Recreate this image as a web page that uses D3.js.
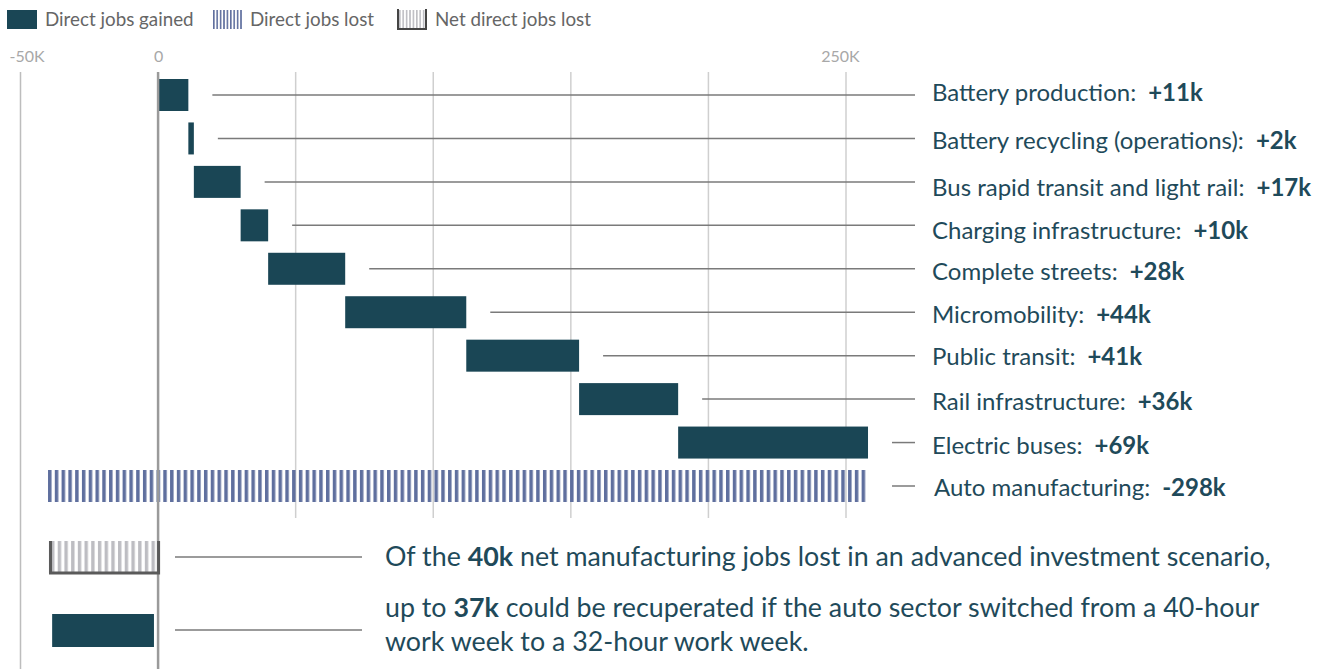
<!DOCTYPE html>
<html>
<head>
<meta charset="utf-8">
<script src="https://cdn.jsdelivr.net/npm/d3@7"></script>
<style>
  body { margin: 0; background: #fff; }
  svg { display: block; font-family: Lato, "Noto Sans", sans-serif; }
</style>
</head>
<body>
<svg id="chart" width="1326" height="669"></svg>
<script>
// Direct job changes by sector, in thousands of jobs
const categories = [
  "Battery production",
  "Battery recycling (operations)",
  "Bus rapid transit and light rail",
  "Charging infrastructure",
  "Complete streets",
  "Micromobility",
  "Public transit",
  "Rail infrastructure",
  "Electric buses",
  "Auto manufacturing"
];
const jobsChange = [11, 2, 17, 10, 28, 44, 41, 36, 69, -298];
const valueLabels = ["+11k", "+2k", "+17k", "+10k", "+28k", "+44k", "+41k", "+36k", "+69k", "-298k"];

// Net manufacturing outcome, thousands
const netJobsLost = 40;
const recuperated = 37;

// Axis
const tickValues = [-50, 0, 250];
const tickLabels = ["-50K", "0", "250K"];
const gridValues = [50, 100, 150, 200, 250];

const legendLabels = ["Direct jobs gained", "Direct jobs lost", "Net direct jobs lost"];

const noteLines = [
  [["Of the ", false], ["40k", true], [" net manufacturing jobs lost in an advanced investment scenario,", false]],
  [["up to ", false], ["37k", true], [" could be recuperated if the auto sector switched from a 40-hour", false]],
  [["work week to a 32-hour work week.", false]]
];

// ---- styling ----
const TEAL = "#1a4655";
const LOST = "#5f6f9e";
const NET_FILL = "#bdbdc2";
const TEXT = "#1f4a5a";

const svg = d3.select("#chart");
const defs = svg.append("defs");

const x = d3.scaleLinear().domain([-50, 250]).range([20.5, 846]);
const y = d3.scalePoint().domain(categories).range([95, 486]);
const barH = 32;

// running totals for the waterfall
let run = 0;
const rows = categories.map((c, i) => {
  const start = run;
  run += jobsChange[i];
  return { name: c, value: jobsChange[i], label: valueLabels[i], x0: Math.min(start, run), x1: Math.max(start, run) };
});

// stripe patterns
function stripes(id, color, period, stripeW, offset) {
  const p = defs.append("pattern")
    .attr("id", id).attr("patternUnits", "userSpaceOnUse")
    .attr("width", period).attr("height", 10)
    .attr("patternTransform", `translate(${offset},0)`);
  p.append("rect").attr("width", stripeW).attr("height", 10).attr("fill", color);
}
const lostStart = x(rows[rows.length - 1].x0);
stripes("lost", LOST, 6.78, 3.5, lostStart);
stripes("net", NET_FILL, 6.7, 3.4, x(-netJobsLost) + 3);
stripes("lostIcon", LOST, 3.4, 1.6, 213);
stripes("netIcon", NET_FILL, 3.4, 1.6, 399);

// ---- grid ----
const grid = svg.append("g");
grid.selectAll("line.g")
  .data(gridValues).join("line")
  .attr("x1", d => x(d)).attr("x2", d => x(d))
  .attr("y1", 72).attr("y2", 518)
  .attr("stroke", "#cfcfcf").attr("stroke-width", 1.5);
grid.append("line")
  .attr("x1", x(-50)).attr("x2", x(-50)).attr("y1", 72).attr("y2", 669)
  .attr("stroke", "#bdbdbd").attr("stroke-width", 1.5);

// ---- axis labels ----
const tickNudge = { "-50": 6, "0": 0, "250": -6 };
const axis = d3.axisTop(x).tickValues(tickValues).tickSize(0)
  .tickFormat((d, i) => tickLabels[i]);
const axG = svg.append("g").attr("transform", "translate(0,62)").call(axis);
axG.select(".domain").remove();
axG.selectAll("text")
  .attr("dy", 0).attr("y", 0)
  .attr("dx", d => tickNudge[d])
  .attr("fill", "#a8a8a8").style("font-size", "16px").style("font-family", "Lato, sans-serif");

// ---- bars ----
svg.append("g").selectAll("rect")
  .data(rows).join("rect")
  .attr("x", d => x(d.x0))
  .attr("width", d => x(d.x1) - x(d.x0))
  .attr("y", d => y(d.name) - barH / 2)
  .attr("height", barH)
  .attr("fill", d => d.value >= 0 ? TEAL : "url(#lost)");

// zero line
svg.append("line")
  .attr("x1", x(0)).attr("x2", x(0)).attr("y1", 72).attr("y2", 669)
  .attr("stroke", "#9a9a9a").attr("stroke-width", 2.5);

// ---- leader lines and labels ----
const labelX = 932;
const lineEnd = 915;
const labelNudge = [6, 11, 14, 14, 11, 11, 9, 11, 11, 10];
svg.append("g").selectAll("line")
  .data(rows).join("line")
  .attr("x1", d => x(d.x1) + 24).attr("x2", lineEnd)
  .attr("y1", d => y(d.name)).attr("y2", d => y(d.name))
  .attr("stroke", "#7a7a7a").attr("stroke-width", 1.5);

const lbl = svg.append("g").selectAll("text")
  .data(rows).join("text")
  .attr("x", (d, i) => labelX + (i === rows.length - 1 ? 2 : 0))
  .attr("y", (d, i) => y(d.name) + labelNudge[i])
  .attr("fill", TEXT).style("font-size", "24px");
lbl.append("tspan").text(d => d.name + ":");
lbl.append("tspan").attr("dx", 12).style("font-weight", 700).text(d => d.label);

// ---- net outcome ----
const netY = 541, netH = 32;
svg.append("rect")
  .attr("x", x(-netJobsLost)).attr("width", x(0) - x(-netJobsLost))
  .attr("y", netY).attr("height", netH)
  .attr("fill", "url(#net)");
svg.append("path")
  .attr("d", `M${x(-netJobsLost) + 2.5},${netY} V${netY + netH} H${x(0) + 0.5} V${netY}`)
  .attr("fill", "none").attr("stroke", "#5a5a5a").attr("stroke-width", 3);

const recY = 614;
const recStart = -netJobsLost + (netJobsLost - recuperated) / 2;
svg.append("rect")
  .attr("x", x(recStart)).attr("width", x(recStart + recuperated) - x(recStart))
  .attr("y", recY).attr("height", 33)
  .attr("fill", TEAL);

[557, 630].forEach(yy => {
  svg.append("line")
    .attr("x1", 175).attr("x2", 362).attr("y1", yy).attr("y2", yy)
    .attr("stroke", "#7a7a7a").attr("stroke-width", 1.5);
});

const noteY = [566, 617, 651];
noteLines.forEach((parts, i) => {
  const t = svg.append("text").attr("x", 385).attr("y", noteY[i])
    .attr("fill", TEXT).style("font-size", "26.8px");
  parts.forEach(([s, b]) => {
    t.append("tspan").style("font-weight", b ? 700 : 400).text(s);
  });
});

// ---- legend ----
const lg = svg.append("g").style("font-size", "18.8px").attr("fill", "#666");
lg.append("rect").attr("x", 7).attr("y", 10).attr("width", 30).attr("height", 19).attr("fill", TEAL);
lg.append("text").attr("x", 45).attr("y", 26).text(legendLabels[0]);
lg.append("rect").attr("x", 213).attr("y", 10).attr("width", 30).attr("height", 19).attr("fill", "url(#lostIcon)");
lg.append("text").attr("x", 250).attr("y", 26).text(legendLabels[1]);
lg.append("rect").attr("x", 398).attr("y", 10).attr("width", 28).attr("height", 19).attr("fill", "url(#netIcon)");
lg.append("path").attr("d", "M398,9 V29 H426 V9").attr("fill", "none").attr("stroke", "#444").attr("stroke-width", 2);
lg.append("text").attr("x", 435).attr("y", 26).text(legendLabels[2]);
</script>
</body>
</html>
